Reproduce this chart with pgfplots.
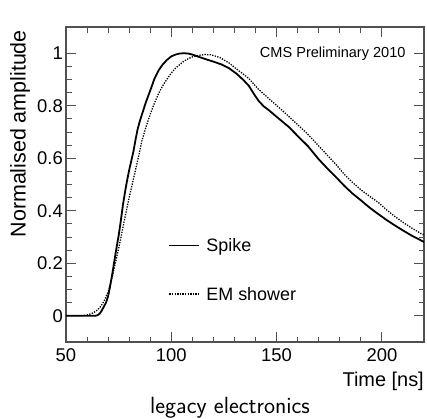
\documentclass[border=0pt]{standalone}
\usepackage{fontspec}
\setmainfont{Liberation Sans}
\usepackage{pgfplots}
\pgfplotsset{compat=1.18}
\definecolor{frame}{HTML}{505050}
\begin{document}
\begin{tikzpicture}[x=1bp,y=1bp]
\begin{axis}[
  at={(0bp,0bp)}, anchor=south west,
  width=358bp, height=315bp, scale only axis,
  xmin=50, xmax=220, ymin=-0.1, ymax=1.1,
  xtick={50,100,150,200}, ytick={0,0.2,0.4,0.6,0.8,1},
  yticklabels={0,0.2,0.4,0.6,0.8,1},
  minor x tick num=4, minor y tick num=3,
  major tick length=10bp, minor tick length=5.5bp,
  axis line style={draw=frame, line width=1.3bp},
  every tick/.style={draw=frame, line width=1bp},
  /pgf/number format/assume math mode=true,
  ticklabel style={font=\fontsize{18.5}{20}\selectfont, inner sep=0pt},
  xticklabel style={anchor=base, yshift=-19bp},
  yticklabel style={anchor=east, xshift=-3bp},
  xlabel={Time [ns]},
  xlabel style={at={(axis description cs:1,0)}, anchor=base east, yshift=-44.7bp, inner sep=0pt, font=\fontsize{20}{22}\selectfont},
  ylabel={Normalised amplitude},
  ylabel style={at={(axis description cs:-0.1285,0.9905)}, anchor=east, inner sep=0pt, font=\fontsize{21.5}{23}\selectfont},
  legend style={draw=none, fill=none, at={(axis cs:97.2,0.301)}, anchor=north west,
    font=\fontsize{18}{20}\selectfont, row sep=35.7bp, column sep=0bp,
    nodes={inner sep=0pt, text height=13bp, text depth=0pt}},
  legend cell align=left,
  legend image code/.code={\draw[#1] (0bp,0bp) -- (23.5bp,0bp); \path (0bp,0bp) -- (30bp,0bp);},
  clip=true,
]
\addplot[black, line width=1.8bp] coordinates {
(50,0)(64,0)(65,0.002)(66,0.008)(67,0.02)(68,0.035)(69,0.05)(70,0.075)(71,0.115)(72,0.16)
(73,0.21)(74,0.26)(75,0.305)(76,0.36)(77,0.42)(78,0.47)(79,0.515)(80,0.555)(81,0.59)(82,0.625)
(83,0.67)(84,0.71)(85,0.74)(86,0.765)(87,0.79)(88,0.815)(90,0.858)(92,0.903)(94,0.935)(96,0.958)
(98,0.975)(100,0.988)(102,0.995)(104,0.999)(106,1.0)(108,0.999)(110,0.995)(112.4,0.988)(115,0.981)
(120,0.968)(124,0.957)(127.4,0.943)(131,0.922)(134,0.9)(136.8,0.876)(139,0.848)(141.5,0.818)
(144,0.797)(146.2,0.784)(150,0.758)(155.7,0.72)(160,0.685)(165,0.645)(170,0.596)(174,0.562)
(178,0.53)(182.4,0.493)(186,0.466)(190,0.44)(194,0.413)(198,0.389)(202,0.366)(206,0.345)
(210,0.325)(214,0.306)(218.6,0.287)(220,0.281)
};
\addlegendentry{\hspace{6bp}Spike}
\addplot[black, line width=1.3bp, dash pattern=on 1.3bp off 1.3bp] coordinates {
(50,0)(58,0)(60,0.003)(62,0.008)(64,0.016)(66,0.03)(68,0.055)(70,0.09)(72,0.15)(74,0.22)
(76,0.295)(78,0.375)(80,0.45)(82,0.52)(84,0.59)(86,0.665)(88,0.72)(90,0.768)(92,0.81)(94,0.847)
(96,0.877)(98,0.902)(100,0.925)(102,0.943)(104,0.957)(106,0.97)(108,0.979)(110,0.986)(112,0.991)
(116,0.995)(119,0.994)(123,0.984)(127.4,0.963)(131,0.94)(136.8,0.904)(141,0.866)(146.2,0.828)
(150.9,0.795)(155.7,0.76)(160,0.728)(165,0.69)(170,0.647)(174.5,0.608)(178,0.578)(182.4,0.537)
(186,0.508)(190,0.48)(194,0.456)(198.1,0.433)(202,0.405)(206,0.379)(210,0.356)(214,0.335)
(218.6,0.313)(220,0.308)
};
\addlegendentry{\hspace{6bp}EM shower}
\node[anchor=east, inner sep=0pt, font=\fontsize{14.6}{16}\selectfont] at (axis cs:211.3,1) {CMS Preliminary 2010};
\end{axis}
\node[anchor=base, inner sep=0pt, font=\sffamily\fontsize{23.5}{25}\selectfont] at (164bp,-71.3bp) {legacy electronics};
\path[use as bounding box] (-66bp,-76bp) rectangle (361bp,342bp);
\end{tikzpicture}
\end{document}
